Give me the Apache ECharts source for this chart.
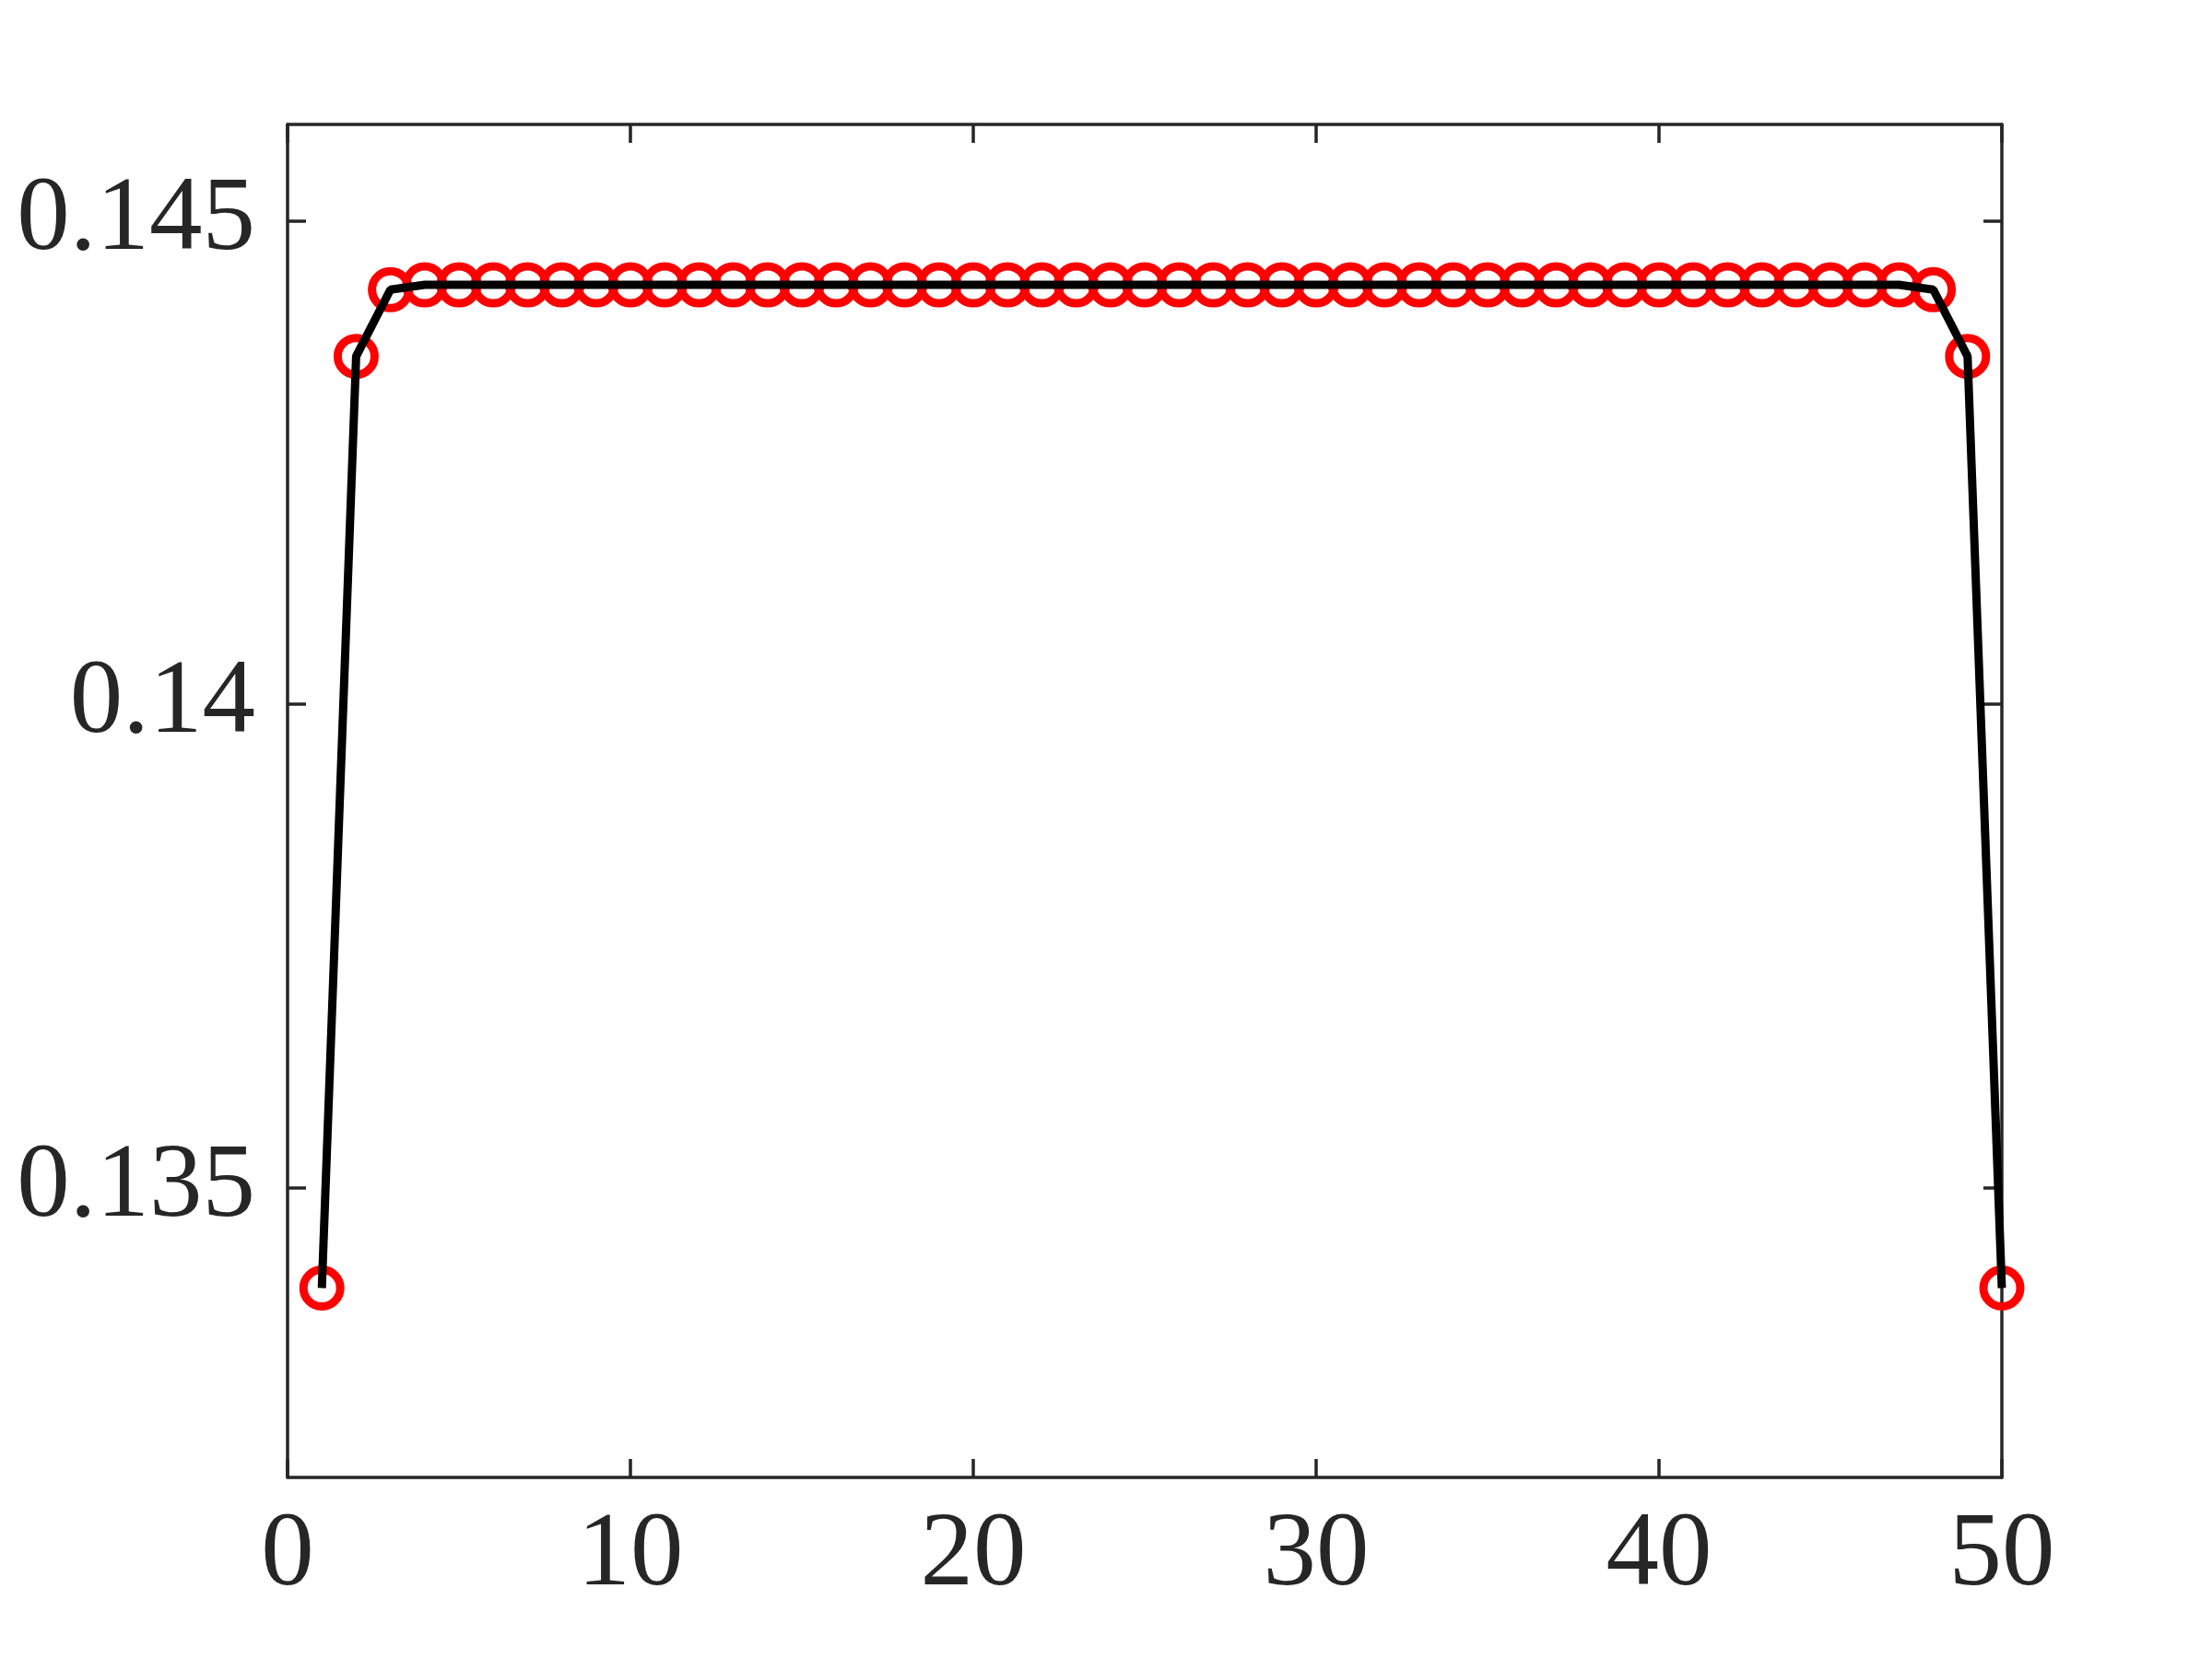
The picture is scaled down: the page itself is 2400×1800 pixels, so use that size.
<!DOCTYPE html>
<html>
<head>
<meta charset="utf-8">
<script src="https://cdn.jsdelivr.net/npm/echarts@6/dist/echarts.min.js"></script>
<style>
  html, body { margin: 0; padding: 0; background: #fff; }
  #chart { width: 2400px; height: 1800px; }
</style>
</head>
<body>
<div id="chart"></div>
<script>
  // point index (x) and value (y)
  var xIndex = [1, 2, 3, 4, 5, 6, 7, 8, 9, 10,
    11, 12, 13, 14, 15, 16, 17, 18, 19, 20,
    21, 22, 23, 24, 25, 26, 27, 28, 29, 30,
    31, 32, 33, 34, 35, 36, 37, 38, 39, 40,
    41, 42, 43, 44, 45, 46, 47, 48, 49, 50]
  var yValues = [0.13396, 0.14360, 0.14429, 0.14434, 0.14434, 0.14434, 0.14434, 0.14434, 0.14434, 0.14434,
    0.14434, 0.14434, 0.14434, 0.14434, 0.14434, 0.14434, 0.14434, 0.14434, 0.14434, 0.14434,
    0.14434, 0.14434, 0.14434, 0.14434, 0.14434, 0.14434, 0.14434, 0.14434, 0.14434, 0.14434,
    0.14434, 0.14434, 0.14434, 0.14434, 0.14434, 0.14434, 0.14434, 0.14434, 0.14434, 0.14434,
    0.14434, 0.14434, 0.14434, 0.14434, 0.14434, 0.14434, 0.14434, 0.14429, 0.14360, 0.13396]
  var xTicks = [0, 10, 20, 30, 40, 50]
  var yTicks = [0.135, 0.14, 0.145]

  var points = xIndex.map(function (x, i) { return [x, yValues[i]] })

  var axisColor = '#262626'
  var labelFont = {
    color: axisColor,
    fontFamily: 'Liberation Serif',
    fontSize: 115
  }

  function xAxis (pos, showLabel) {
    return {
      type: 'value',
      position: pos,
      min: 0,
      max: 50,
      axisLine: { show: true, onZero: false, lineStyle: { color: axisColor, width: 3.5 } },
      axisTick: { show: true, inside: true, length: 20, customValues: xTicks, lineStyle: { color: axisColor, width: 3.5 } },
      axisLabel: Object.assign({ show: showLabel, margin: 28, customValues: xTicks }, labelFont),
      splitLine: { show: false }
    }
  }
  function yAxis (pos, showLabel) {
    return {
      type: 'value',
      position: pos,
      min: 0.132,
      max: 0.146,
      axisLine: { show: true, onZero: false, lineStyle: { color: axisColor, width: 3.5 } },
      axisTick: { show: true, inside: true, length: 20, customValues: yTicks, lineStyle: { color: axisColor, width: 3.5 } },
      axisLabel: Object.assign({ show: showLabel, margin: 35, customValues: yTicks }, labelFont),
      splitLine: { show: false }
    }
  }

  var myChart = echarts.init(document.getElementById('chart'))
  myChart.setOption({
    animation: false,
    backgroundColor: '#fff',
    grid: { left: 312, right: 228, top: 135, bottom: 197 },
    xAxis: [xAxis('bottom', true), xAxis('top', false)],
    yAxis: [yAxis('left', true), yAxis('right', false)],
    series: [
      {
        type: 'scatter',
        data: points,
        symbol: 'circle',
        symbolSize: 40,
        z: 2,
        itemStyle: { color: 'rgba(0,0,0,0)', borderColor: '#ff0000', borderWidth: 9, opacity: 1 }
      },
      {
        type: 'line',
        data: points,
        showSymbol: false,
        z: 3,
        lineStyle: { color: '#000', width: 9 }
      }
    ]
  })
</script>
</body>
</html>
